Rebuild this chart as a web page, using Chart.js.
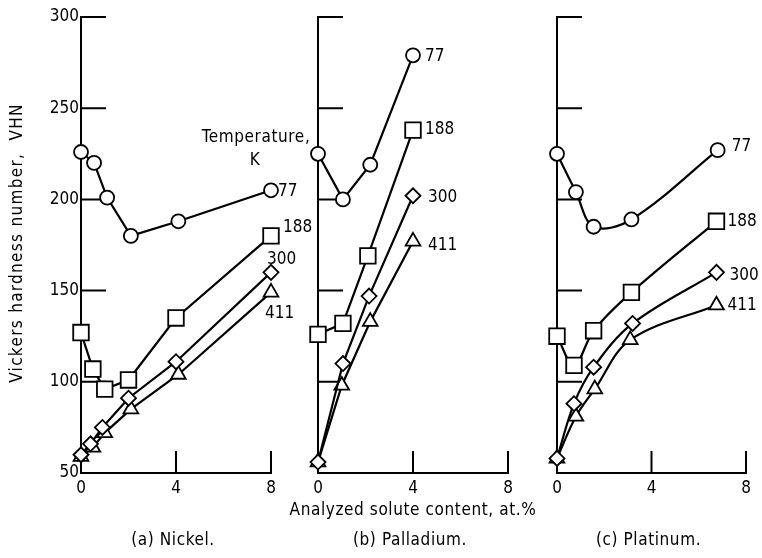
<!DOCTYPE html>
<html>
<head>
<meta charset="utf-8">
<script src="https://cdn.jsdelivr.net/npm/chart.js@4.4.0/dist/chart.umd.min.js"></script>
<style>
  body { margin: 0; background: #fff; }
  #wrap { position: relative; width: 762px; height: 558px; }
  canvas { position: absolute; left: 0; top: 0; }
</style>
</head>
<body>
<div id="wrap">
  <canvas id="nickel" width="762" height="558"></canvas>
  <canvas id="palladium" width="762" height="558"></canvas>
  <canvas id="platinum" width="762" height="558"></canvas>
</div>
<script>
const FONT = '"Liberation Sans Narrow", "DejaVu Sans Condensed", sans-serif';

// temperatures, K (one curve each)
const temps = ['77', '188', '300', '411'];
const markers = ['circle', 'rect', 'rectRot', 'triangle'];
const markerRadius = [7, 11, 7.5, 8.5];

// axis ticks
const yTicks = [50, 100, 150, 200, 250, 300];
const xTicks = [0, 4, 8];

// (a) Nickel, solute content at.% / hardness VHN
const niX77 = [0, 0.55, 1.1, 2.1, 4.1, 8];
const niHv77 = [226, 220, 201, 180, 188, 205];
const niX188 = [0, 0.5, 1, 2, 4, 8];
const niHv188 = [127, 107, 96, 101, 135, 180];
const niX300 = [0, 0.4, 0.9, 2, 4, 8];
const niHv300 = [60, 66, 75, 91, 111, 160];
const niX411 = [0, 0.5, 1, 2.1, 4.1, 8];
const niHv411 = [59, 64, 72, 85, 104, 149];

// (b) Palladium
const pdX77 = [0, 1.05, 2.2, 4];
const pdHv77 = [225, 200, 219, 279];
const pdX188 = [0, 1.05, 2.1, 4];
const pdHv188 = [126, 132, 169, 238];
const pdX300 = [0, 1.05, 2.15, 4];
const pdHv300 = [56, 110, 147, 202];
const pdX411 = [0, 1, 2.2, 4];
const pdHv411 = [56, 98, 133, 177];

// (c) Platinum
const ptX77 = [0, 0.8, 1.55, 3.15, 6.8];
const ptHv77 = [225, 204, 185, 189, 227];
const ptX188 = [0, 0.72, 1.55, 3.15, 6.75];
const ptHv188 = [125, 109, 128, 149, 188];
const ptX300 = [0, 0.72, 1.55, 3.2, 6.75];
const ptHv300 = [58, 88, 108, 132, 160];
const ptX411 = [0, 0.8, 1.6, 3.1, 6.75];
const ptHv411 = [58, 81, 96, 123, 142];

function pts(xs, ys) {
  return xs.map((x, i) => ({ x: x, y: ys[i] }));
}

// inward tick marks, curve labels, captions
const paperPlugin = {
  id: 'paper',
  beforeDatasetsDraw(chart) {
    const { ctx, chartArea, scales } = chart;
    ctx.save();
    ctx.strokeStyle = '#000';
    ctx.lineWidth = 2;
    ctx.beginPath();
    scales.y.ticks.forEach(function (t) {
      if (t.value <= scales.y.min) return;
      const py = scales.y.getPixelForValue(t.value);
      ctx.moveTo(chartArea.left, py);
      ctx.lineTo(chartArea.left + 25, py);
    });
    scales.x.ticks.forEach(function (t) {
      if (t.value <= scales.x.min) return;
      const px = scales.x.getPixelForValue(t.value);
      ctx.moveTo(px, chartArea.bottom);
      ctx.lineTo(px, chartArea.bottom - 22);
    });
    ctx.stroke();
    ctx.restore();
  },
  afterDraw(chart, args, o) {
    const { ctx, chartArea, scales } = chart;
    ctx.save();
    ctx.fillStyle = '#000';
    ctx.font = '17px ' + FONT;
    ctx.textBaseline = 'middle';
    ctx.textAlign = 'left';
    (o.tags || []).forEach(function (tag, i) {
      const meta = chart.getDatasetMeta(i);
      const last = meta.data[meta.data.length - 1];
      ctx.fillText(temps[i], last.x + tag[0], last.y + tag[1]);
    });
    ctx.textAlign = 'center';
    ctx.letterSpacing = '0.6px';
    (o.notes || []).forEach(function (n) {
      ctx.fillText(n.text, scales.x.getPixelForValue(n.x), scales.y.getPixelForValue(n.y));
    });
    const cx = (chartArea.left + chartArea.right) / 2;
    if (o.xTitle) ctx.fillText(o.xTitle, cx, chartArea.bottom + 38);
    ctx.fillText(o.caption, cx - 3, chartArea.bottom + 68);
    if (o.yTitle) {
      ctx.letterSpacing = '1.3px';
      ctx.translate(18, (chartArea.top + chartArea.bottom) / 2 - 2);
      ctx.rotate(-Math.PI / 2);
      ctx.fillText(o.yTitle, 0, 0);
    }
    ctx.restore();
  }
};

function makeChart(id, series, cfg) {
  const datasets = series.map(function (s, i) {
    return {
      label: temps[i] + ' K',
      data: pts(s[0], s[1]),
      borderColor: '#000',
      borderWidth: 2.2,
      backgroundColor: '#fff',
      pointStyle: markers[i],
      pointRadius: markerRadius[i],
      pointBorderWidth: 1.8,
      pointBackgroundColor: '#fff',
      pointBorderColor: '#000',
      tension: cfg.tension,
      clip: false
    };
  });
  return new Chart(document.getElementById(id), {
    type: 'line',
    data: { datasets: datasets },
    options: {
      responsive: false,
      animation: false,
      layout: { padding: { left: cfg.padLeft, right: cfg.padRight, top: 17, bottom: 0 } },
      plugins: {
        legend: { display: false },
        tooltip: { enabled: false },
        paper: { tags: cfg.tags, notes: cfg.notes, caption: cfg.caption, xTitle: cfg.xTitle, yTitle: cfg.yTitle }
      },
      scales: {
        x: {
          type: 'linear',
          min: 0,
          max: 8,
          afterBuildTicks: function (s) { s.ticks = xTicks.map(v => ({ value: v })); },
          afterFit: function (s) { s.height = 85; },
          grid: { display: false, drawTicks: false },
          border: { color: '#000', width: 2 },
          ticks: { color: '#000', padding: 5, font: { family: FONT, size: 17 } }
        },
        y: {
          min: 50,
          max: 300,
          afterBuildTicks: function (s) { s.ticks = yTicks.map(v => ({ value: v })); },
          afterFit: function (s) { s.width = cfg.yWidth; },
          grid: { display: false, drawTicks: false },
          border: { color: '#000', width: 2 },
          ticks: { display: cfg.yLabels, color: '#000', padding: 2, font: { family: FONT, size: 17 } }
        }
      }
    },
    plugins: [paperPlugin]
  });
}

makeChart('nickel', [[niX77, niHv77], [niX188, niHv188], [niX300, niHv300], [niX411, niHv411]], {
  padLeft: 0, padRight: 491, yWidth: 81, yLabels: true, tension: 0,
  tags: [[7, 1], [12, -8], [-4, -13], [-6, 21]],
  notes: [{ text: 'Temperature,', x: 7.37, y: 234 }, { text: 'K', x: 7.33, y: 221.5 }],
  yTitle: 'Vickers hardness number,  VHN',
  caption: '(a) Nickel.'
});

makeChart('palladium', [[pdX77, pdHv77], [pdX188, pdHv188], [pdX300, pdHv300], [pdX411, pdHv411]], {
  padLeft: 300, padRight: 254, yWidth: 18, yLabels: false, tension: 0,
  tags: [[12, 1], [12, -1], [15, 2], [15, 4]],
  xTitle: 'Analyzed solute content, at.%',
  caption: '(b) Palladium.'
});

makeChart('platinum', [[ptX77, ptHv77], [ptX188, ptHv188], [ptX300, ptHv300], [ptX411, ptHv411]], {
  padLeft: 540, padRight: 16, yWidth: 17, yLabels: false, tension: 0.35,
  tags: [[14, -4], [11, 0], [13, 3], [11, 0]],
  caption: '(c) Platinum.'
});
</script>
</body>
</html>
